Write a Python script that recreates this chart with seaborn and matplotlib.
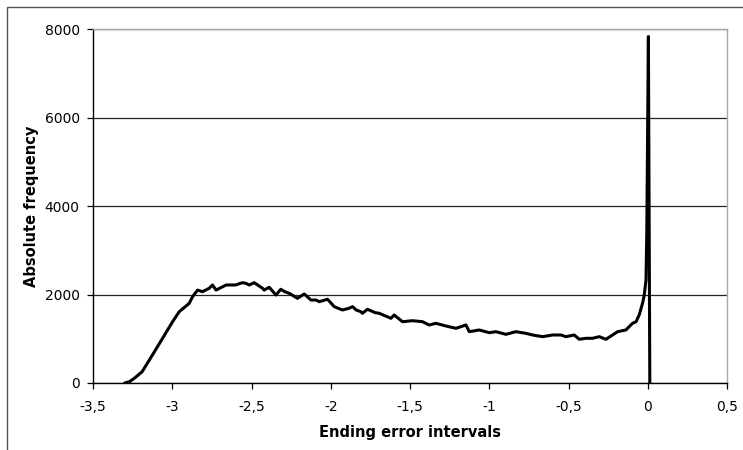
import matplotlib
matplotlib.use("Agg")
import matplotlib.pyplot as plt
import matplotlib.patches as mpatches
import seaborn as sns
import pandas as pd

error_interval = [
    -3.30, -3.27, -3.24, -3.19, -3.125, -3.061, -2.998, -2.956, -2.893, -2.872,
    -2.84, -2.81, -2.767, -2.746, -2.724, -2.66, -2.60, -2.58, -2.557, -2.535,
    -2.515, -2.483, -2.43, -2.42, -2.388, -2.346, -2.315, -2.29, -2.262, -2.21,
    -2.167, -2.125, -2.093, -2.073, -2.02, -1.978, -1.926, -1.886, -1.862, -1.84,
    -1.81, -1.80, -1.768, -1.72, -1.694, -1.62, -1.60,
    -1.547, -1.484, -1.421, -1.379, -1.337, -1.273, -1.21, -1.147, -1.126, -1.063,
    -1.0, -0.958, -0.895, -0.832, -0.77, -0.727, -0.664, -0.60, -0.548, -0.516,
    -0.464, -0.432, -0.39, -0.348, -0.306, -0.264, -0.222, -0.19, -0.138, -0.096,
    -0.074, -0.054, -0.033, -0.022, -0.011, -0.006, 0.004, 0.013,
]
frequency = [
    0, 30, 105, 255, 633, 1010, 1385, 1612, 1800, 1950,
    2100, 2063, 2140, 2215, 2100, 2215, 2215, 2240, 2267, 2253,
    2215, 2267, 2140, 2100, 2163, 1989, 2118, 2063, 2027, 1914,
    2011, 1875, 1875, 1837, 1892, 1725, 1650, 1688, 1725, 1650,
    1612, 1575, 1666, 1590, 1575, 1462, 1537,
    1385, 1408, 1385, 1311, 1349, 1288, 1236, 1311, 1160, 1198,
    1137, 1160, 1100, 1160, 1123, 1085, 1047, 1085, 1085, 1047,
    1085, 988, 1010, 1010, 1047, 988, 1085, 1160, 1198, 1349,
    1385, 1537, 1800, 1989, 2328, 3400, 7830, 0,
]
x_ticks = [-3.5, -3.0, -2.5, -2.0, -1.5, -1.0, -0.5, 0.0, 0.5]
x_tick_labels = ["-3,5", "-3", "-2,5", "-2", "-1,5", "-1", "-0,5", "0", "0,5"]
y_ticks = [0, 2000, 4000, 6000, 8000]
y_tick_labels = ["0", "2000", "4000", "6000", "8000"]

df = pd.DataFrame({"x": error_interval, "y": frequency})

sns.set_style("white")
plt.rcParams["font.family"] = ["DejaVu Sans"]
plt.rcParams["text.color"] = "black"
plt.rcParams["axes.labelcolor"] = "black"

fig = plt.figure(figsize=(7.43, 4.5), dpi=100)
ax = fig.add_axes([93 / 743, 1 - 383 / 450, (727 - 93) / 743, (383 - 29) / 450])

sns.lineplot(data=df, x="x", y="y", ax=ax, color="black", linewidth=2.2,
             sort=False, estimator=None, zorder=3)

ax.set_xlim(-3.5, 0.5)
ax.set_ylim(0, 8000)
ax.set_xticks(x_ticks)
ax.set_xticklabels(x_tick_labels)
ax.set_yticks(y_ticks)
ax.set_yticklabels(y_tick_labels)

ax.yaxis.grid(True, color="#222222", linewidth=0.9)
ax.xaxis.grid(False)
ax.set_axisbelow(True)

for side in ["left", "bottom"]:
    ax.spines[side].set_color("black")
    ax.spines[side].set_linewidth(1.0)
for side in ["top", "right"]:
    ax.spines[side].set_color("#a8a8a8")
    ax.spines[side].set_linewidth(1.0)

ax.tick_params(axis="both", which="major", direction="out", length=4.5, width=0.9,
               color="black", labelsize=10, labelcolor="black")
ax.tick_params(axis="x", pad=8, bottom=True)
ax.tick_params(axis="y", pad=5, left=True)

ax.set_xlabel("Ending error intervals", fontsize=10.5, fontweight="bold",
              labelpad=8, color="black")
ax.set_ylabel("Absolute frequency", fontsize=10.5, fontweight="bold",
              labelpad=4, color="black")

border = mpatches.Rectangle((7 / 743, -0.2), 1.2, 1.2 - 7 / 450, fill=False,
                            edgecolor="#555555", linewidth=1.0,
                            transform=fig.transFigure, clip_on=False)
fig.add_artist(border)

fig.savefig("out.png", dpi=100)
